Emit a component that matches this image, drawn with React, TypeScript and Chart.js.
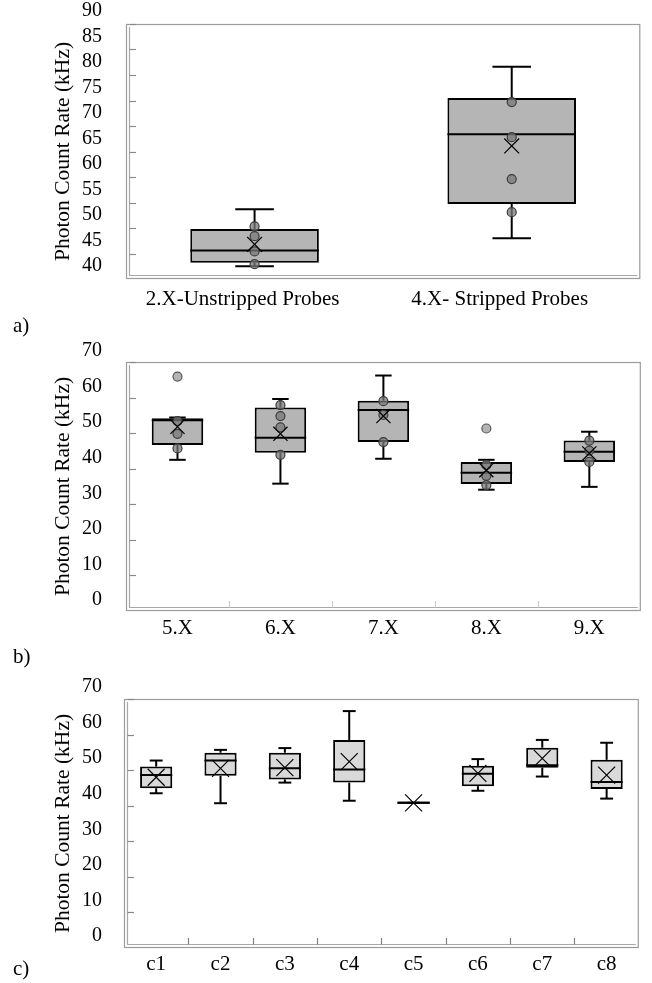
import React, { useEffect, useRef } from 'react';
import { Chart, registerables } from 'chart.js';

Chart.register(...registerables);

const FONT = '"Liberation Serif", "Times New Roman", serif';
const Y_TITLE = 'Photon Count Rate (kHz)';

// ---------- Panel a ----------
const catsA = ['2.X-Unstripped Probes', '4.X- Stripped Probes'];
const loA = [42.5, 48.0];
const q1A = [43.2, 54.7];
const medA = [45.6, 68.4];
const q3A = [49.8, 75.5];
const hiA = [53.7, 81.6];
const meanA = [46.8, 66.1];
const pointsA = [[50.3, 48.4, 45.4, 42.9], [74.7, 67.8, 59.6, 53.1]];
const outA: number[][] = [[], []];
const yTicksA = [40, 45, 50, 55, 60, 65, 70, 75, 80, 85, 90];

// ---------- Panel b ----------
const catsB = ['5.X', '6.X', '7.X', '8.X', '9.X'];
const loB = [42.5, 35.8, 42.8, 34.1, 34.9];
const q1B = [46.7, 44.5, 47.5, 35.7, 41.9];
const medB = [53.6, 48.7, 56.5, 38.9, 44.8];
const q3B = [54.2, 57.2, 59.1, 41.9, 47.9];
const hiB = [54.4, 59.6, 66.2, 42.5, 50.4];
const meanB = [51.8, 49.8, 54.8, 39.6, 44.3];
const pointsB = [
  [53.4, 49.8, 45.7],
  [57.9, 54.8, 51.6, 43.9],
  [59.0, 55.1, 47.5],
  [41.0, 38.0, 35.4],
  [47.9, 45.1, 41.9],
];
const outB = [[65.9], [], [], [51.3], []];
const yTicksB = [0, 10, 20, 30, 40, 50, 60, 70];

// ---------- Panel c ----------
const catsC = ['c1', 'c2', 'c3', 'c4', 'c5', 'c6', 'c7', 'c8'];
const loC = [43.5, 40.7, 46.5, 41.4, 40.8, 44.2, 48.2, 42.0];
const q1C = [44.9, 48.4, 47.4, 46.5, 40.8, 45.5, 50.7, 44.7];
const medC = [48.6, 52.7, 50.5, 50.2, 40.8, 49.0, 51.4, 46.7];
const q3C = [51.0, 54.9, 54.9, 58.5, 40.8, 51.2, 56.3, 52.9];
const hiC = [52.7, 55.7, 56.2, 66.6, 40.8, 53.1, 58.5, 57.7];
const meanC = [48.0, 50.5, 50.7, 52.4, 40.8, 49.1, 53.3, 48.6];
const pointsC: number[][] = [[], [], [], [], [], [], [], []];
const outC: number[][] = [[], [], [], [], [], [], [], []];
const yTicksC = [0, 10, 20, 30, 40, 50, 60, 70];

type PanelProps = {
  top: number;
  height: number;
  cats: string[];
  lo: number[];
  q1: number[];
  med: number[];
  q3: number[];
  hi: number[];
  mean: number[];
  points: number[][];
  outliers: number[][];
  yTicks: number[];
  padTop: number;
  padRight: number;
  yWidth: number;
  xHeight: number;
  labelOffset: number;
  xLabelOffset: number;
  tickPad: number;
  xPad: number;
  boxFill: string;
  capFrac: number;
  meanRadius: number;
  xTickColor: string | null;
};

function BoxPanel(p: PanelProps) {
  const ref = useRef<HTMLCanvasElement>(null);
  useEffect(() => {
    if (!ref.current) return;
    const ptData: { x: string; y: number }[] = [];
    p.points.forEach((arr, i) => arr.forEach((v) => ptData.push({ x: p.cats[i], y: v })));
    const outData: { x: string; y: number }[] = [];
    p.outliers.forEach((arr, i) => arr.forEach((v) => outData.push({ x: p.cats[i], y: v })));
    const meanData = p.mean.map((v, i) => ({ x: p.cats[i], y: v }));

    const framePlugin = {
      id: 'frame',
      beforeDatasetsDraw(chart: any) {
        const { ctx, chartArea } = chart;
        const { left, right, top, bottom } = chartArea;
        ctx.save();
        ctx.strokeStyle = '#9c9c9c';
        ctx.lineWidth = 1.2;
        ctx.strokeRect(left + 0.5, top + 0.5, right - left - 1, bottom - top - 1);
        ctx.strokeStyle = '#a8a8a8';
        ctx.lineWidth = 1.2;
        ctx.beginPath();
        ctx.moveTo(left + 3.5, top + 3);
        ctx.lineTo(left + 3.5, bottom - 3.5);
        ctx.lineTo(right - 3, bottom - 3.5);
        ctx.stroke();
        const ys = chart.scales.y;
        ctx.strokeStyle = '#8a8a8a';
        ctx.lineWidth = 1.2;
        ys.ticks.forEach((t: any) => {
          const yy = Math.round(ys.getPixelForValue(t.value)) + 0.5;
          if (yy > bottom - 5) return;
          ctx.beginPath();
          ctx.moveTo(left + 3.5, yy);
          ctx.lineTo(left + 10, yy);
          ctx.stroke();
        });
        if (p.xTickColor) {
          const n = p.cats.length;
          const w = (right - left) / n;
          ctx.strokeStyle = p.xTickColor;
          for (let i = 1; i < n; i++) {
            const xx = Math.round(left + i * w) + 0.5;
            ctx.beginPath();
            ctx.moveTo(xx, bottom - 3.5);
            ctx.lineTo(xx, bottom - 10);
            ctx.stroke();
          }
        }
        ctx.restore();
      },
    };

    const boxPlugin = {
      id: 'boxWhiskers',
      afterDatasetDraw(chart: any, args: any) {
        if (args.index !== 0) return;
        const meta = chart.getDatasetMeta(0);
        const ys = chart.scales.y;
        const ctx = chart.ctx;
        ctx.save();
        ctx.strokeStyle = '#000';
        ctx.lineWidth = 2;
        const line = (x1: number, y1: number, x2: number, y2: number) => {
          ctx.beginPath();
          ctx.moveTo(x1, y1);
          ctx.lineTo(x2, y2);
          ctx.stroke();
        };
        meta.data.forEach((el: any, i: number) => {
          const { x, width } = el.getProps(['x', 'width'], true);
          const half = width / 2;
          const cap = (width * p.capFrac) / 2;
          const yLo = ys.getPixelForValue(p.lo[i]);
          const yQ1 = ys.getPixelForValue(p.q1[i]);
          const yMed = ys.getPixelForValue(p.med[i]);
          const yQ3 = ys.getPixelForValue(p.q3[i]);
          const yHi = ys.getPixelForValue(p.hi[i]);
          line(x, yQ3, x, yHi);
          line(x, yQ1, x, yLo);
          line(x - cap, yHi, x + cap, yHi);
          line(x - cap, yLo, x + cap, yLo);
          line(x - half, yMed, x + half, yMed);
          if (p.q3[i] === p.q1[i]) line(x - half, yQ1, x + half, yQ1);
        });
        ctx.restore();
      },
    };

    const chart = new Chart(ref.current, {
      type: 'bar',
      data: {
        labels: p.cats,
        datasets: [
          {
            type: 'bar',
            data: p.cats.map((_, i) => [p.q1[i], p.q3[i]]) as any,
            backgroundColor: p.boxFill,
            borderColor: '#000',
            borderWidth: 2,
            borderSkipped: false,
            barPercentage: 0.5,
            categoryPercentage: 1,
            order: 3,
          } as any,
          {
            type: 'line',
            data: ptData as any,
            showLine: false,
            pointRadius: 4.5,
            pointBackgroundColor: 'rgba(120,120,120,0.75)',
            pointBorderColor: '#3c3c3c',
            pointBorderWidth: 1.2,
            order: 2,
          } as any,
          {
            type: 'line',
            data: outData as any,
            showLine: false,
            pointRadius: 4.5,
            pointBackgroundColor: '#b4b4b4',
            pointBorderColor: '#555',
            pointBorderWidth: 1.2,
            order: 1,
          } as any,
          {
            type: 'line',
            data: meanData as any,
            showLine: false,
            pointStyle: 'crossRot',
            pointRadius: p.meanRadius,
            pointBorderColor: '#000',
            pointBorderWidth: 1.2,
            order: 0,
          } as any,
        ],
      },
      options: {
        animation: false,
        responsive: false,
        maintainAspectRatio: false,
        events: [],
        layout: { padding: { top: p.padTop, right: p.padRight, left: 0, bottom: 0 } },
        plugins: { legend: { display: false }, tooltip: { enabled: false } },
        scales: {
          x: {
            type: 'category',
            offset: true,
            grid: { display: false },
            border: { display: false },
            ticks: {
              color: '#000',
              font: { family: FONT, size: 21 },
              padding: p.xPad,
              labelOffset: p.xLabelOffset,
              maxRotation: 0,
              autoSkip: false,
            },
            afterFit: (s: any) => {
              s.height = p.xHeight;
              s.paddingLeft = 0;
              s.paddingRight = 0;
            },
          },
          y: {
            min: p.yTicks[0],
            max: p.yTicks[p.yTicks.length - 1],
            grid: { display: false },
            border: { display: false },
            ticks: {
              stepSize: p.yTicks[1] - p.yTicks[0],
              autoSkip: false,
              color: '#000',
              font: { family: FONT, size: 20 },
              padding: p.tickPad,
              labelOffset: p.labelOffset,
            },
            title: {
              display: true,
              text: Y_TITLE,
              color: '#000',
              font: { family: FONT, size: 21.5 },
              padding: { top: 50, bottom: 0 },
            },
            afterFit: (s: any) => {
              s.width = p.yWidth;
              s.paddingTop = 0;
              s.paddingBottom = 0;
            },
          },
        },
      },
      plugins: [framePlugin, boxPlugin],
    } as any);
    return () => chart.destroy();
  }, []);
  return (
    <canvas
      ref={ref}
      width={652}
      height={p.height}
      style={{ position: 'absolute', left: 0, top: p.top, width: 652, height: p.height }}
    />
  );
}

const panelLabel = (text: string, top: number) => (
  <div
    style={{
      position: 'absolute',
      left: 13,
      top,
      fontFamily: FONT,
      fontSize: 21,
      lineHeight: '22px',
      color: '#000',
      zIndex: 2,
    }}
  >
    {text}
  </div>
);

export default function App() {
  return (
    <div style={{ position: 'absolute', left: 0, top: 0, width: 652, height: 983, background: '#fff' }}>
      <BoxPanel
        top={0}
        height={318}
        cats={catsA}
        lo={loA}
        q1={q1A}
        med={medA}
        q3={q3A}
        hi={hiA}
        mean={meanA}
        points={pointsA}
        outliers={outA}
        yTicks={yTicksA}
        padTop={24}
        padRight={6}
        yWidth={126}
        xHeight={39}
        labelOffset={-13}
        xLabelOffset={-12}
        tickPad={16}
        xPad={0}
        boxFill="#b5b5b5"
        capFrac={0.3}
        meanRadius={10.5}
        xTickColor={null}
      />
      <BoxPanel
        top={320}
        height={330}
        cats={catsB}
        lo={loB}
        q1={q1B}
        med={medB}
        q3={q3B}
        hi={hiB}
        mean={meanB}
        points={pointsB}
        outliers={outB}
        yTicks={yTicksB}
        padTop={42}
        padRight={11}
        yWidth={126}
        xHeight={39}
        labelOffset={-11}
        xLabelOffset={0}
        tickPad={16}
        xPad={-3}
        boxFill="#b5b5b5"
        capFrac={0.32}
        meanRadius={10}
        xTickColor="#cdcdcd"
      />
      <BoxPanel
        top={655}
        height={328}
        cats={catsC}
        lo={loC}
        q1={q1C}
        med={medC}
        q3={q3C}
        hi={hiC}
        mean={meanC}
        points={pointsC}
        outliers={outC}
        yTicks={yTicksC}
        padTop={44}
        padRight={10}
        yWidth={124}
        xHeight={35}
        labelOffset={-12}
        xLabelOffset={0}
        tickPad={14}
        xPad={-4}
        boxFill="#d9d9d9"
        capFrac={0.4}
        meanRadius={12}
        xTickColor="#808080"
      />
      {panelLabel('a)', 314)}
      {panelLabel('b)', 645)}
      {panelLabel('c)', 957)}
    </div>
  );
}
